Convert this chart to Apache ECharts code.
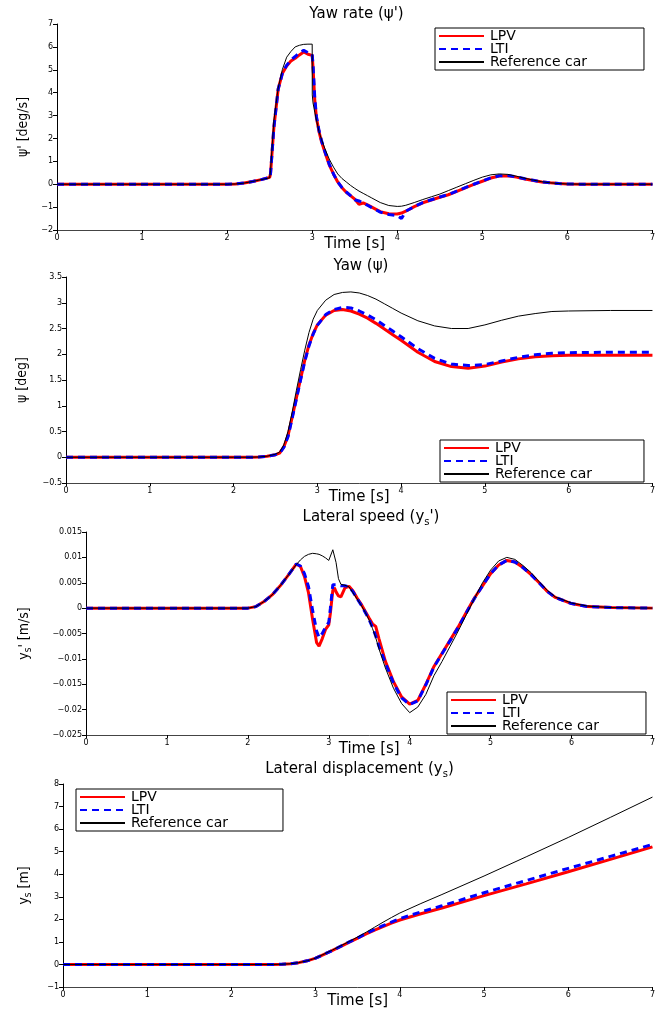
<!DOCTYPE html>
<html><head><meta charset="utf-8">
<script src="https://cdn.jsdelivr.net/npm/echarts@6/dist/echarts.min.js"></script>
<style>html,body{margin:0;padding:0;background:#fff}#c{width:658px;height:1010px}</style>
</head><body><div id="c"></div>
<script>
const seriesNames = ['LPV', 'LTI', 'Reference car'];
const panelTitles = ["Yaw rate (ψ')", "Yaw (ψ)", "Lateral speed (y{sub|s}')", "Lateral displacement (y{sub|s})"];
const yNames = ["ψ' [deg/s]", "ψ [deg]", "y{sub|s}' [m/s]", "y{sub|s} [m]"];
const xName = 'Time [s]';
const xRange = [0, 7, 1];
const yRanges = [[-2, 7, 1], [-0.5, 3.5, 0.5], [-0.025, 0.015, 0.005], [-1, 8, 1]];

// Panel 1: yaw rate
const t1 = [0,1,2,2.1,2.2,2.3,2.4,2.5,2.51,2.55,2.6,2.65,2.7,2.75,2.8,2.85,2.9,2.95,3.0,3.001,3.01,3.03,3.05,3.08,3.11,3.15,3.2,3.25,3.3,3.35,3.4,3.45,3.5,3.55,3.6,3.65,3.7,3.8,3.9,4.0,4.05,4.1,4.2,4.3,4.4,4.5,4.6,4.7,4.8,4.9,5.0,5.1,5.2,5.3,5.4,5.5,5.6,5.7,5.8,5.9,6.0,6.2,6.5,7.0];
const lpv1 = [0,0,0,0.01,0.05,0.12,0.2,0.3,0.45,2.5,4.15,4.85,5.17,5.38,5.5,5.65,5.78,5.68,5.63,5.6,5.1,3.7,2.9,2.3,1.85,1.4,0.85,0.45,0.1,-0.15,-0.35,-0.5,-0.65,-0.88,-0.82,-0.9,-1.0,-1.2,-1.29,-1.3,-1.26,-1.18,-0.98,-0.81,-0.69,-0.57,-0.46,-0.31,-0.16,-0.01,0.13,0.27,0.36,0.37,0.31,0.23,0.16,0.1,0.06,0.03,0.01,0,0,0];
const lti1 = [0,0,0,0.01,0.05,0.12,0.2,0.3,0.45,2.5,4.15,4.85,5.2,5.42,5.58,5.75,5.85,5.75,5.68,5.65,5.2,3.8,2.95,2.35,1.9,1.42,0.88,0.45,0.1,-0.15,-0.33,-0.5,-0.68,-0.73,-0.82,-0.92,-1.02,-1.22,-1.32,-1.37,-1.5,-1.18,-0.98,-0.8,-0.68,-0.56,-0.45,-0.3,-0.15,0,0.14,0.28,0.37,0.38,0.32,0.24,0.17,0.1,0.06,0.03,0.01,0,0,0];
const ref1 = [0,0,0,0.01,0.05,0.12,0.2,0.28,0.6,2.8,4.2,5.02,5.55,5.8,6.0,6.07,6.11,6.12,6.12,3.9,3.55,3.15,2.8,2.3,1.95,1.55,1.1,0.75,0.45,0.25,0.1,-0.05,-0.18,-0.3,-0.4,-0.5,-0.6,-0.8,-0.93,-0.97,-0.96,-0.92,-0.8,-0.67,-0.55,-0.43,-0.28,-0.13,0.02,0.17,0.31,0.41,0.45,0.43,0.35,0.26,0.18,0.11,0.06,0.03,0.01,0,0,0];

// Panel 2: yaw
const t2 = [0,1,2,2.2,2.3,2.4,2.5,2.55,2.6,2.65,2.7,2.75,2.8,2.85,2.9,2.95,3.0,3.1,3.2,3.3,3.4,3.5,3.6,3.7,3.8,3.9,4.0,4.2,4.4,4.6,4.8,5.0,5.2,5.4,5.6,5.8,6.0,6.5,7.0];
const lpv2 = [0,0,0,0,0.005,0.02,0.05,0.08,0.2,0.42,0.78,1.15,1.52,1.88,2.18,2.4,2.57,2.76,2.85,2.87,2.84,2.78,2.7,2.6,2.49,2.38,2.27,2.04,1.86,1.76,1.73,1.77,1.85,1.91,1.95,1.97,1.98,1.98,1.98];
const lti2 = [0,0,0,0,0.005,0.02,0.05,0.08,0.19,0.4,0.76,1.13,1.5,1.86,2.16,2.39,2.56,2.77,2.87,2.91,2.9,2.84,2.76,2.67,2.56,2.45,2.34,2.11,1.92,1.81,1.78,1.8,1.87,1.94,1.99,2.02,2.03,2.04,2.04];
const ref2 = [0,0,0,0,0.005,0.02,0.06,0.1,0.24,0.5,0.88,1.3,1.7,2.08,2.42,2.68,2.85,3.05,3.16,3.2,3.21,3.19,3.14,3.07,2.98,2.89,2.8,2.65,2.55,2.5,2.5,2.57,2.66,2.74,2.79,2.83,2.84,2.85,2.85];

// Panel 3: lateral speed
const t3 = [0,1,2,2.1,2.2,2.3,2.4,2.5,2.6,2.65,2.7,2.75,2.8,2.85,2.88,2.92,2.96,3.0,3.02,3.05,3.07,3.09,3.12,3.15,3.2,3.25,3.3,3.35,3.4,3.45,3.5,3.54,3.56,3.58,3.62,3.7,3.8,3.9,4.0,4.1,4.2,4.3,4.4,4.5,4.6,4.7,4.8,4.9,5.0,5.1,5.2,5.3,5.4,5.5,5.6,5.7,5.8,6.0,6.2,6.5,7.0];
const lpv3 = [0,0,0,0.0003,0.0013,0.0026,0.0044,0.0065,0.0087,0.0082,0.0062,0.003,-0.0022,-0.0068,-0.0075,-0.006,-0.0042,-0.0033,-0.001,0.0035,0.004,0.0032,0.0024,0.0022,0.004,0.0043,0.0034,0.002,0.0008,-0.0006,-0.002,-0.0031,-0.0034,-0.0036,-0.006,-0.0105,-0.0145,-0.0175,-0.0189,-0.0182,-0.015,-0.0115,-0.0089,-0.0063,-0.0037,-0.0008,0.002,0.0044,0.0068,0.0085,0.0094,0.0091,0.008,0.0066,0.005,0.0033,0.0021,0.0009,0.0003,0.0001,0];
const lti3 = [0,0,0,0.0003,0.0013,0.0026,0.0044,0.0065,0.0087,0.0083,0.0068,0.0042,-0.0004,-0.0045,-0.0058,-0.005,-0.0037,-0.0028,0.0,0.0046,0.0048,0.0046,0.0045,0.0044,0.0044,0.0042,0.0032,0.0019,0.0006,-0.0008,-0.0023,-0.0038,-0.0046,-0.0055,-0.0075,-0.0108,-0.0148,-0.0177,-0.019,-0.0183,-0.0151,-0.0116,-0.009,-0.0064,-0.0038,-0.0009,0.0019,0.0044,0.0068,0.0085,0.0094,0.0091,0.008,0.0066,0.005,0.0033,0.0021,0.0009,0.0003,0.0001,0];
const ref3 = [0,0,0,0.0003,0.0013,0.0026,0.0044,0.0065,0.0086,0.0095,0.0102,0.0106,0.0108,0.0107,0.0106,0.0103,0.0099,0.0094,0.0096,0.0115,0.0116,0.009,0.0058,0.0047,0.0045,0.0042,0.003,0.0018,0.0006,-0.0008,-0.0024,-0.004,-0.0049,-0.0058,-0.008,-0.0118,-0.0158,-0.0188,-0.0206,-0.0195,-0.017,-0.0133,-0.0105,-0.0075,-0.0045,-0.0013,0.0019,0.005,0.0075,0.0093,0.01,0.0096,0.0084,0.007,0.0052,0.0035,0.0022,0.001,0.0004,0.0001,0];

// Panel 4: lateral displacement
const t4 = [0,1,2,2.5,2.6,2.7,2.8,2.9,3.0,3.1,3.2,3.3,3.4,3.5,3.6,3.7,3.8,3.9,4.0,4.25,4.5,5.0,5.5,6.0,6.5,7.0];
const lpv4 = [0,0,0,0,0.01,0.03,0.08,0.16,0.28,0.45,0.62,0.8,0.99,1.17,1.35,1.52,1.68,1.83,1.97,2.25,2.5,3.05,3.57,4.11,4.66,5.21];
const lti4 = [0,0,0,0,0.01,0.03,0.08,0.16,0.28,0.45,0.62,0.81,1.0,1.18,1.37,1.55,1.72,1.88,2.03,2.33,2.6,3.18,3.72,4.26,4.79,5.32];
const ref4 = [0,0,0,0,0.01,0.03,0.08,0.16,0.28,0.46,0.64,0.83,1.02,1.22,1.43,1.65,1.87,2.08,2.28,2.7,3.1,3.92,4.77,5.63,6.52,7.42];

const panels = [
  {t: t1, vals: [lpv1, lti1, ref1]},
  {t: t2, vals: [lpv2, lti2, ref2]},
  {t: t3, vals: [lpv3, lti3, ref3]},
  {t: t4, vals: [lpv4, lti4, ref4]}
];

// layout (pixels)
const grids = [
  {left: 57, right: 2, top: 24, height: 206},
  {left: 66, right: 2, top: 277, height: 206},
  {left: 86, right: 2, top: 532, height: 203},
  {left: 63, right: 2, top: 784, height: 204}
];
const titleY = [14.5, 266.5, 517.5, 769.5];
const yNameGap = [27, 37, 53, 30];
const legendPos = [
  {left: 435, top: 28, padRight: 57},
  {left: 440, top: 440, padRight: 52},
  {left: 447, top: 692, padRight: 47},
  {left: 76, top: 789, padRight: 55}
];

const styles = [
  {color: '#ff0000', width: 3, type: 'solid'},
  {color: '#0000ff', width: 3, type: [7, 5]},
  {color: '#000000', width: 1, type: 'solid'}
];

const mainFont = 'DejaVu Sans';
const narrowFont = "'Liberation Sans Narrow', 'DejaVu Sans Condensed', 'Liberation Sans', sans-serif";

function fmt(v) {
  return String(+v.toFixed(4)).replace('-', '\u2212');
}

const option = {
  backgroundColor: '#fff',
  animation: false,
  title: panelTitles.map((txt, i) => ({
    text: txt,
    left: grids[i].left + (658 - grids[i].left - grids[i].right) / 2,
    top: titleY[i],
    textAlign: 'center',
    textVerticalAlign: 'middle',
    padding: 0,
    textStyle: {
      fontFamily: mainFont, fontSize: 15, fontWeight: 'normal', color: '#000',
      rich: {sub: {fontFamily: mainFont, fontSize: 10, padding: [9, 0, 0, 0], color: '#000'}}
    }
  })),
  legend: legendPos.map(p => ({
    data: seriesNames,
    orient: 'vertical',
    left: p.left,
    top: p.top,
    itemGap: -1,
    itemWidth: 45,
    itemHeight: 13,
    padding: [1, p.padRight, 1, 3],
    borderColor: '#000',
    borderWidth: 1,
    borderRadius: 0,
    backgroundColor: '#fff',
    selectedMode: false,
    itemStyle: {opacity: 0},
    textStyle: {fontFamily: mainFont, fontSize: 14, color: '#000', padding: [0, 0, 0, 1]}
  })),
  grid: grids,
  xAxis: grids.map((g, i) => ({
    type: 'value', gridIndex: i,
    min: xRange[0], max: xRange[1], interval: xRange[2],
    name: xName, nameLocation: 'middle', nameGap: 7, nameMoveOverlap: false,
    nameTextStyle: {fontFamily: mainFont, fontSize: 15, color: '#000'},
    axisLine: {show: true, onZero: false, lineStyle: {color: '#444', width: 1}},
    axisTick: {show: true, length: 3, lineStyle: {color: '#000'}},
    axisLabel: {fontFamily: mainFont, fontSize: 8, color: '#000', margin: 4},
    splitLine: {show: false}
  })),
  yAxis: grids.map((g, i) => ({
    type: 'value', gridIndex: i,
    min: yRanges[i][0], max: yRanges[i][1], interval: yRanges[i][2],
    name: yNames[i], nameLocation: 'middle', nameRotate: 90, nameGap: yNameGap[i], nameMoveOverlap: false,
    nameTextStyle: {
      fontFamily: narrowFont, fontSize: 14, color: '#000',
      rich: {sub: {fontFamily: narrowFont, fontSize: 10, padding: [8, 0, 0, 0], color: '#000'}}
    },
    axisLine: {show: true, onZero: false, lineStyle: {color: '#000', width: 1}},
    axisTick: {show: true, length: 4, lineStyle: {color: '#000'}},
    axisLabel: {fontFamily: mainFont, fontSize: 8, color: '#000', margin: 4, formatter: fmt},
    splitLine: {show: false}
  })),
  series: []
};

panels.forEach((p, i) => {
  p.vals.forEach((vals, k) => {
    option.series.push({
      name: seriesNames[k],
      type: 'line',
      xAxisIndex: i, yAxisIndex: i,
      data: p.t.map((t, j) => [t, vals[j]]),
      symbol: 'none', showSymbol: false,
      lineStyle: {color: styles[k].color, width: styles[k].width, type: styles[k].type},
      itemStyle: {color: styles[k].color},
      z: 2 + k
    });
  });
});

const chart = echarts.init(document.getElementById('c'), null, {renderer: 'canvas'});
chart.setOption(option);
</script>
</body></html>
